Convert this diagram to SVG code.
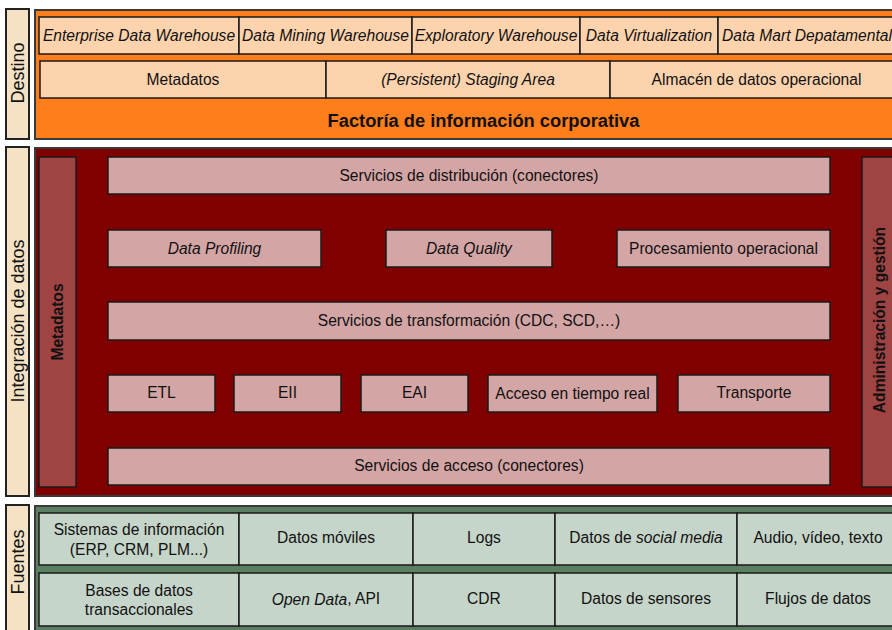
<svg xmlns="http://www.w3.org/2000/svg" width="892" height="630" viewBox="0 0 892 630">
<style>
text{font-family:"Liberation Sans",Arial,sans-serif;fill:#111;}
.t{font-size:15.6px;text-anchor:middle;dominant-baseline:central;}
.i{font-style:italic;}
.b{font-weight:bold;}
.lbl{font-size:18px;text-anchor:middle;dominant-baseline:central;}
.side{fill:#f5e1c3;stroke:#222;stroke-width:2;}
.outer{stroke:#3a3a3a;stroke-width:2;}
.pe{fill:#fdd3ad;stroke:#1a1a1a;stroke-width:1.5;}
.pk{fill:#d4a5a5;stroke:#1a1a1a;stroke-width:1.5;}
.bar{fill:#a04343;stroke:#1a1a1a;stroke-width:1.5;}
.gr{fill:#c6d5c9;stroke:#1a1a1a;stroke-width:1.5;}
</style>
<rect width="892" height="630" fill="#ffffff"/>

<!-- Destino layer -->
<g id="destino-label">
<rect class="side" x="6" y="9" width="23" height="130"/>
<text class="lbl" transform="translate(17.5,73) rotate(-90)">Destino</text>
</g>
<g id="destino">
<rect class="outer" x="35" y="10" width="870" height="129" fill="#fd7e1a"/>
</g>
<g id="edw"><rect class="pe" x="39" y="17" width="200" height="37"/><text class="t i" x="139" y="35">Enterprise Data Warehouse</text></g>
<g id="dmw"><rect class="pe" x="239" y="17" width="173" height="37"/><text class="t i" x="325.5" y="35">Data Mining Warehouse</text></g>
<g id="exw"><rect class="pe" x="412" y="17" width="168" height="37"/><text class="t i" x="496" y="35">Exploratory Warehouse</text></g>
<g id="dvirt"><rect class="pe" x="580" y="17" width="138" height="37"/><text class="t i" x="649" y="35">Data Virtualization</text></g>
<g id="dmart"><rect class="pe" x="718" y="17" width="180" height="37"/><text class="t i" x="807" y="35">Data Mart Depatamental</text></g>
<g id="metadatos-dest"><rect class="pe" x="40" y="61" width="286" height="37"/><text class="t" x="183" y="79">Metadatos</text></g>
<g id="staging"><rect class="pe" x="326" y="61" width="284" height="37"/><text class="t i" x="468" y="79">(Persistent) Staging Area</text></g>
<g id="ods"><rect class="pe" x="610" y="61" width="295" height="37"/><text class="t" x="756.5" y="79">Almacén de datos operacional</text></g>
<g id="cif"><text class="b" x="483.5" y="120.5" font-size="18.3" text-anchor="middle" dominant-baseline="central">Factoría de información corporativa</text></g>

<!-- Integracion layer -->
<g id="integracion-label">
<rect class="side" x="6" y="147" width="23" height="349"/>
<text class="lbl" transform="translate(17.5,321) rotate(-90)">Integración de datos</text>
</g>
<g id="integracion">
<rect class="outer" x="35" y="148" width="870" height="348" fill="#800000"/>
</g>
<g id="metadatos-bar"><rect class="bar" x="39" y="157" width="37" height="330"/><text class="t b" transform="translate(57.5,322) rotate(-90)">Metadatos</text></g>
<g id="admin-bar"><rect class="bar" x="862" y="157" width="40" height="330"/><text class="t b" transform="translate(879,320) rotate(-90)">Administración y gestión</text></g>
<g id="distribucion"><rect class="pk" x="108" y="157" width="722" height="37"/><text class="t" x="469" y="175">Servicios de distribución (conectores)</text></g>
<g id="profiling"><rect class="pk" x="108" y="230" width="213" height="37"/><text class="t i" x="214.5" y="248">Data Profiling</text></g>
<g id="quality"><rect class="pk" x="386" y="230" width="166" height="37"/><text class="t i" x="469" y="248">Data Quality</text></g>
<g id="procesamiento"><rect class="pk" x="617" y="230" width="213" height="37"/><text class="t" x="723.5" y="248">Procesamiento operacional</text></g>
<g id="transformacion"><rect class="pk" x="108" y="302" width="722" height="38"/><text class="t" x="469" y="320.5">Servicios de transformación (CDC, SCD,…)</text></g>
<g id="etl"><rect class="pk" x="108" y="375" width="107" height="37"/><text class="t" x="161.5" y="392">ETL</text></g>
<g id="eii"><rect class="pk" x="234" y="375" width="107" height="37"/><text class="t" x="287.5" y="392">EII</text></g>
<g id="eai"><rect class="pk" x="361" y="375" width="107" height="37"/><text class="t" x="414.5" y="392">EAI</text></g>
<g id="tiempo-real"><rect class="pk" x="488" y="375" width="169" height="37"/><text class="t" x="572.5" y="393.5">Acceso en tiempo real</text></g>
<g id="transporte"><rect class="pk" x="678" y="375" width="152" height="37"/><text class="t" x="754" y="392">Transporte</text></g>
<g id="acceso"><rect class="pk" x="108" y="448" width="722" height="37"/><text class="t" x="469" y="465">Servicios de acceso (conectores)</text></g>

<!-- Fuentes layer -->
<g id="fuentes-label">
<rect class="side" x="6" y="505" width="23" height="135"/>
<text class="lbl" transform="translate(17.5,562) rotate(-90)">Fuentes</text>
</g>
<g id="fuentes">
<rect class="outer" x="35" y="506" width="870" height="134" fill="#5b7f63"/>
</g>
<g id="sistemas"><rect class="gr" x="39" y="513" width="200" height="52"/><text class="t" x="139" y="529.5">Sistemas de información</text><text class="t" x="139" y="549">(ERP, CRM, PLM...)</text></g>
<g id="moviles"><rect class="gr" x="239" y="513" width="174" height="52"/><text class="t" x="326" y="537">Datos móviles</text></g>
<g id="logs"><rect class="gr" x="413" y="513" width="142" height="52"/><text class="t" x="484" y="537">Logs</text></g>
<g id="social"><rect class="gr" x="555" y="513" width="182" height="52"/><text class="t" x="646" y="537">Datos de <tspan font-style="italic">social media</tspan></text></g>
<g id="audio"><rect class="gr" x="737" y="513" width="165" height="52"/><text class="t" x="818" y="537">Audio, vídeo, texto</text></g>
<g id="bases"><rect class="gr" x="39" y="573" width="200" height="53"/><text class="t" x="139" y="590">Bases de datos</text><text class="t" x="139" y="609">transaccionales</text></g>
<g id="opendata"><rect class="gr" x="239" y="573" width="174" height="53"/><text class="t" x="326" y="598.5"><tspan font-style="italic">Open Data</tspan>, API</text></g>
<g id="cdr"><rect class="gr" x="413" y="573" width="142" height="53"/><text class="t" x="484" y="598.5">CDR</text></g>
<g id="sensores"><rect class="gr" x="555" y="573" width="182" height="53"/><text class="t" x="646" y="598.5">Datos de sensores</text></g>
<g id="flujos"><rect class="gr" x="737" y="573" width="165" height="53"/><text class="t" x="818" y="598.5">Flujos de datos</text></g>
</svg>
